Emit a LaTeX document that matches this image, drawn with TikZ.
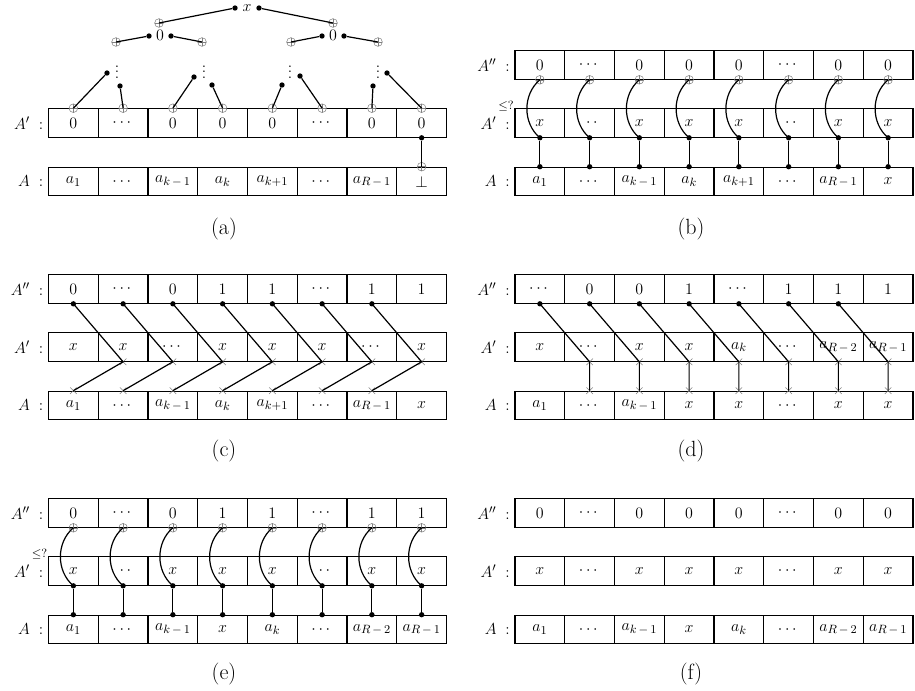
\documentclass[tikz,border=0pt]{standalone}
\usepackage{amsmath}
\usepackage{amssymb}
\usepackage{tikz}
\usetikzlibrary{shapes.misc}
\DeclareMathSizes{12}{12}{9}{7}

% spaced minus for the subscripts
\newcommand{\smin}{\mskip3mu{-}\mskip3mu}
% one array row: name prefix, left edge, centre height, entries
\newcommand{\drawrow}[4]{%
    \foreach \entry [count=\i] in {#4}{
        \node[cell] (#1-\i) at ({#2+49.75*(\i-0.5)},#3) {$\entry$};
    }}

\begin{document}
\begin{tikzpicture}[
    x=0.75pt, y=-0.75pt,
    font=\fontsize{12}{14}\selectfont,
    cell/.style={rectangle, draw, line width=0.8pt,
        minimum width=37.3pt, minimum height=21.4pt, inner sep=0pt},
    rowlabel/.style={anchor=east, inner sep=0pt},
    bullet/.style={circle, fill, inner sep=0pt, minimum size=4pt},
    xorin/.style={circle, draw=gray, thin, inner sep=0pt, minimum size=6.5pt,
        path picture={\draw[gray, thin]
            (path picture bounding box.north) -- (path picture bounding box.south)
            (path picture bounding box.west) -- (path picture bounding box.east);}},
    xmark/.style={cross out, draw=gray, thin, inner sep=0pt, minimum size=4.5pt},
    wire/.style={line width=0.9pt},
    cmp/.style={font=\fontsize{9}{10}\selectfont, inner sep=0pt},
    subcap/.style={font=\fontsize{16.5}{19}\selectfont}
]
\useasboundingbox (0,0) rectangle (915,690);

% === PANEL (a) ===
\drawrow{a-p}{48.5}{123}{0,\cdots,0,0,0,\cdots,0,0}
\drawrow{a-a}{48.5}{181.5}{a_1,\cdots,a_{k\smin1},a_k,a_{k+1},\cdots,a_{R\smin1},\perp}
\node[rowlabel] (a-lab-p) at (43.5,123) {$A'\;:$};
\node[rowlabel] (a-lab-a) at (43.5,181.5) {$A\;:$};

% tree on top of A'
\node[inner sep=0pt] (root) at (247,8) {$x$};
\node[bullet] (root-l) at (235,8) {};
\node[bullet] (root-r) at (259,8) {};
\node[xorin] (in-l) at (159,23) {};
\node[xorin] (in-r) at (333,23) {};
\node[inner sep=0pt] (mid-l) at (160,35) {$0$};
\node[inner sep=0pt] (mid-r) at (333,35) {$0$};
\node[bullet] (mid-l-l) at (149,36) {};
\node[bullet] (mid-l-r) at (171,36) {};
\node[bullet] (mid-r-l) at (322,36) {};
\node[bullet] (mid-r-r) at (344,36) {};
\node[xorin] (in-1) at (116,42) {};
\node[xorin] (in-2) at (202,42) {};
\node[xorin] (in-3) at (291,42) {};
\node[xorin] (in-4) at (378,42) {};
\node[inner sep=0pt] (vd-1) at (117,68) {$\vdots$};
\node[inner sep=0pt] (vd-2) at (204,68) {$\vdots$};
\node[inner sep=0pt] (vd-3) at (290,68) {$\vdots$};
\node[inner sep=0pt] (vd-4) at (378,68) {$\vdots$};
\node[bullet] (lf-1) at (107,73) {};
\node[bullet] (lf-2) at (120,86) {};
\node[bullet] (lf-3) at (194,77) {};
\node[bullet] (lf-4) at (212,85) {};
\node[bullet] (lf-5) at (282,85) {};
\node[bullet] (lf-6) at (300,76) {};
\node[bullet] (lf-7) at (373,86) {};
\node[bullet] (lf-8) at (387,73) {};

\draw[wire] (root-l) -- (in-l.center);
\draw[wire] (root-r) -- (in-r.center);
\draw[wire] (mid-l-l) -- (in-1.center);
\draw[wire] (mid-l-r) -- (in-2.center);
\draw[wire] (mid-r-l) -- (in-3.center);
\draw[wire] (mid-r-r) -- (in-4.center);
\foreach \i in {1,...,8}{
    \node[xorin] (a-o-\i) at (a-p-\i.north) {};
    \draw[wire] (lf-\i) -- (a-o-\i.center);
}
\node[bullet] (a-d-8) at (a-p-8.south) {};
\node[xorin] (a-o-bot) at (a-a-8.north) {};
\draw[wire] (a-d-8) -- (a-o-bot.center);

\node[subcap] (cap-a) at (224,229) {(a)};

% === PANEL (b) ===
\drawrow{b-pp}{515}{65}{0,\cdots,0,0,0,\cdots,0,0}
\drawrow{b-p}{515}{123}{x,\;\cdot\,\cdot,x,x,x,\;\cdot\,\cdot,x,x}
\drawrow{b-a}{515}{181.5}{a_1,\cdots,a_{k\smin1},a_k,a_{k+1},\cdots,a_{R\smin1},x}
\node[rowlabel] (b-lab-pp) at (510,65) {$A''\;:$};
\node[rowlabel] (b-lab-p) at (510,123) {$A'\;:$};
\node[rowlabel] (b-lab-a) at (510,181.5) {$A\;:$};
\node[cmp] (b-cmp) at (506,106) {$\leq ?$};
\foreach \i in {1,...,8}{
    \node[xorin] (b-o-\i) at (b-pp-\i.south) {};
    \node[bullet] (b-dp-\i) at (b-p-\i.south) {};
    \node[bullet] (b-da-\i) at (b-a-\i.north) {};
    \draw[wire] (b-dp-\i) -- (b-da-\i);
    \draw[wire] (b-dp-\i.center) to[bend left=50] (b-o-\i.center);
}
\node[subcap] (cap-b) at (691,229) {(b)};

% === PANEL (c) ===
\drawrow{c-pp}{48.5}{289}{0,\cdots,0,1,1,\cdots,1,1}
\drawrow{c-p}{48.5}{347}{x,x,\cdots,x,x,x,\cdots,x}
\drawrow{c-a}{48.5}{405.5}{a_1,\cdots,a_{k\smin1},a_k,a_{k+1},\cdots,a_{R\smin1},x}
\node[rowlabel] (c-lab-pp) at (43.5,289) {$A''\;:$};
\node[rowlabel] (c-lab-p) at (43.5,347) {$A'\;:$};
\node[rowlabel] (c-lab-a) at (43.5,405.5) {$A\;:$};
\foreach \i [count=\j from 2] in {1,...,7}{
    \node[bullet] (c-d-\i) at (c-pp-\i.south) {};
    \node[xmark] (c-xp-\j) at (c-p-\j.south) {};
    \node[xmark] (c-xa-\i) at (c-a-\i.north) {};
    \draw[wire] (c-d-\i.center) -- (c-xp-\j.center) -- (c-xa-\i.center);
}
\node[subcap] (cap-c) at (224,451.5) {(c)};

% === PANEL (d) ===
\drawrow{d-pp}{515}{289}{\cdots,0,0,1,\cdots,1,1,1}
\drawrow{d-p}{515}{347}{x,\cdots,x,x,a_k,\cdots,a_{R\smin2},a_{R\smin1}}
\drawrow{d-a}{515}{405.5}{a_1,\cdots,a_{k\smin1},x,x,\cdots,x,x}
\node[rowlabel] (d-lab-pp) at (510,289) {$A''\;:$};
\node[rowlabel] (d-lab-p) at (510,347) {$A'\;:$};
\node[rowlabel] (d-lab-a) at (510,405.5) {$A\;:$};
\foreach \i [count=\j from 2] in {1,...,7}{
    \node[bullet] (d-d-\i) at (d-pp-\i.south) {};
    \node[xmark] (d-xp-\j) at (d-p-\j.south) {};
    \node[xmark] (d-xa-\j) at (d-a-\j.north) {};
    \draw[wire] (d-d-\i.center) -- (d-xp-\j.center) -- (d-xa-\j.center);
}
\node[subcap] (cap-d) at (691,451.5) {(d)};

% === PANEL (e) ===
\drawrow{e-pp}{48.5}{513}{0,\cdots,0,1,1,\cdots,1,1}
\drawrow{e-p}{48.5}{571}{x,\;\cdot\,\cdot,x,x,x,\;\cdot\,\cdot,x,x}
\drawrow{e-a}{48.5}{629.5}{a_1,\cdots,a_{k\smin1},x,a_k,\cdots,a_{R\smin2},a_{R\smin1}}
\node[rowlabel] (e-lab-pp) at (43.5,513) {$A''\;:$};
\node[rowlabel] (e-lab-p) at (43.5,571) {$A'\;:$};
\node[rowlabel] (e-lab-a) at (43.5,629.5) {$A\;:$};
\node[cmp] (e-cmp) at (39.5,554) {$\leq ?$};
\foreach \i in {1,...,8}{
    \node[xorin] (e-o-\i) at (e-pp-\i.south) {};
    \node[bullet] (e-dp-\i) at (e-p-\i.south) {};
    \node[bullet] (e-da-\i) at (e-a-\i.north) {};
    \draw[wire] (e-dp-\i) -- (e-da-\i);
    \draw[wire] (e-dp-\i.center) to[bend left=50] (e-o-\i.center);
}
\node[subcap] (cap-e) at (224,674) {(e)};

% === PANEL (f) ===
\drawrow{f-pp}{515}{513}{0,\cdots,0,0,0,\cdots,0,0}
\drawrow{f-p}{515}{571}{x,\cdots,x,x,x,\cdots,x,x}
\drawrow{f-a}{515}{629.5}{a_1,\cdots,a_{k\smin1},x,a_k,\cdots,a_{R\smin2},a_{R\smin1}}
\node[rowlabel] (f-lab-pp) at (510,513) {$A''\;:$};
\node[rowlabel] (f-lab-p) at (510,571) {$A'\;:$};
\node[rowlabel] (f-lab-a) at (510,629.5) {$A\;:$};
\node[subcap] (cap-f) at (691,674) {(f)};

\end{tikzpicture}
\end{document}
